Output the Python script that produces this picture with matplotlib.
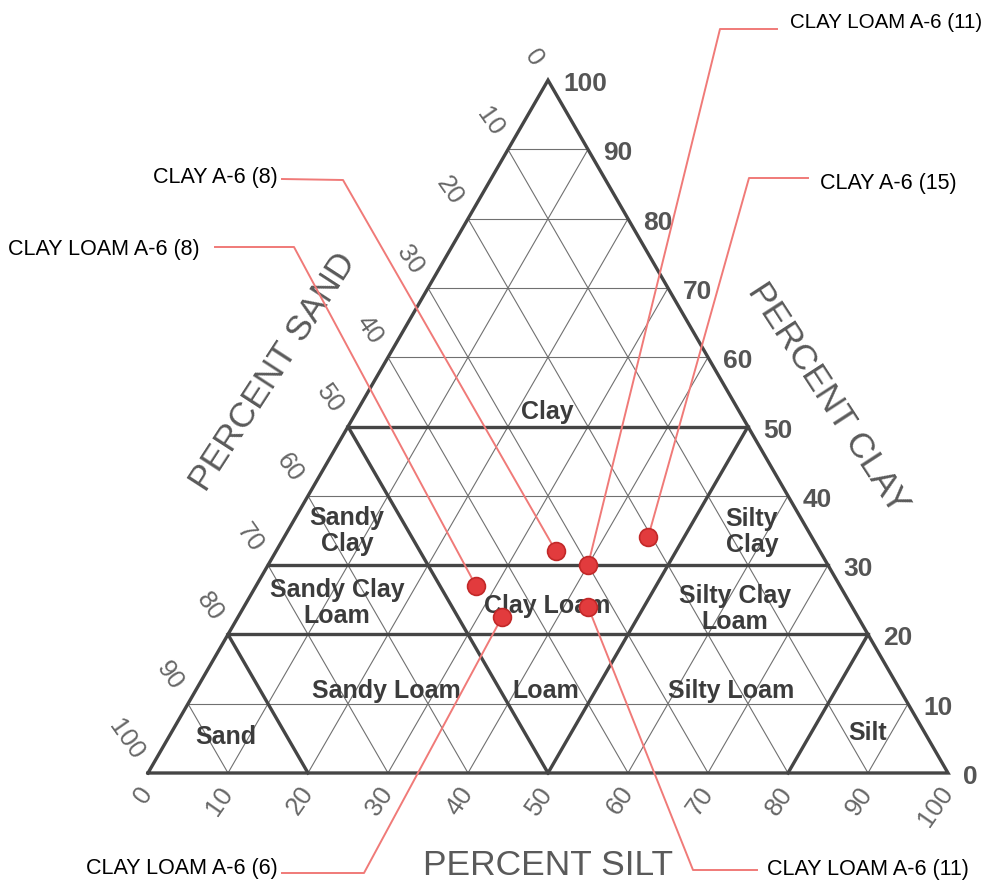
import numpy as np
import matplotlib.pyplot as plt

plt.rcParams['font.family'] = ['Liberation Sans', 'DejaVu Sans']

# sample points (percent silt, percent clay; sand is the rest)
sample_labels = ["CLAY A-6 (8)", "CLAY LOAM A-6 (11)", "CLAY A-6 (15)",
                 "CLAY LOAM A-6 (8)", "CLAY LOAM A-6 (6)", "CLAY LOAM A-6 (11)"]
sample_silt = [35, 40, 45.5, 27.5, 33, 43]
sample_clay = [32, 30, 34, 27, 22.5, 24]

# texture class names
zone_names = ["Clay", "Sandy\nClay", "Sandy Clay\nLoam", "Clay Loam", "Silty\nClay",
              "Silty Clay\nLoam", "Sandy Loam", "Loam", "Silty Loam", "Sand", "Silt"]

# class boundaries as (silt, clay) end points
zone_lines = [((0, 50), (50, 50)), ((0, 30), (70, 30)), ((0, 20), (80, 20)),
              ((50, 0), (0, 50)), ((50, 0), (50, 50)),
              ((20, 0), (0, 20)), ((80, 0), (80, 20))]

ticks = list(range(0, 101, 10))

S3 = np.sqrt(3) / 2


def tern(silt, clay):
    silt = np.asarray(silt, dtype=float)
    clay = np.asarray(clay, dtype=float)
    return silt + clay / 2, clay * S3


def px(x, y):
    # image pixel -> data units (8 px per percent)
    return (x - 148) / 8, (773 - y) / 8


fig = plt.figure(figsize=(9.98, 8.88), dpi=100)
ax = fig.add_axes([0, 0, 1, 1])
ax.set_xlim(-18.5, 106.25)
ax.set_ylim(-14.375, 96.625)
ax.axis('off')

grid_col = '#707070'
thick_col = '#454545'

# thin 10% grid
for v in ticks[1:-1]:
    for (a, b) in [((0, v), (100 - v, v)),       # clay = v
                   ((v, 0), (v, 100 - v)),       # silt = v
                   ((100 - v, 0), (0, 100 - v))]:  # sand = v
        x, y = tern([a[0], b[0]], [a[1], b[1]])
        ax.plot(x, y, color=grid_col, lw=0.8, zorder=1)

# triangle outline
x, y = tern([0, 100, 0, 0], [0, 0, 100, 0])
ax.plot(x, y, color=thick_col, lw=2.4, zorder=2, solid_joinstyle='miter')

for a, b in zone_lines:
    x, y = tern([a[0], b[0]], [a[1], b[1]])
    ax.plot(x, y, color=thick_col, lw=2.4, zorder=2)

# tick labels
tick_col = '#555555'
for t in ticks:
    # sand on the left side
    ax.annotate(str(t), xy=tern(0, 100 - t), xytext=(-10, 16), textcoords='offset pixels',
                rotation=-55, rotation_mode='anchor', ha='right', va='center',
                fontsize=18.5, color='#666666')
    # clay on the right side
    ax.annotate(str(t), xy=tern(100 - t, t), xytext=(15, -4), textcoords='offset pixels',
                ha='left', va='center', fontsize=19, color=tick_col, fontweight='bold')
    # silt along the bottom
    ax.annotate(str(t), xy=tern(t, 0), xytext=(0, -16), textcoords='offset pixels',
                rotation=55, rotation_mode='anchor', ha='right', va='center',
                fontsize=18.5, color='#666666')

# axis titles
title_kw = dict(ha='center', va='center', fontsize=25.5, color='#5a5a5a')
ax.text(*px(273, 372), 'PERCENT SAND', rotation=57, **title_kw)
ax.text(*px(828, 398), 'PERCENT CLAY', rotation=-57, **title_kw)
ax.text(*px(548, 865), 'PERCENT SILT', **title_kw)

# zone labels
zone_pos = [(547, 412), (347, 531), (337, 603), (547, 606), (752, 532),
            (735, 609), (386, 691), (546, 691), (731, 691), (226, 737), (868, 733)]
for name, (zx, zy) in zip(zone_names, zone_pos):
    ax.text(*px(zx, zy), name, ha='center', va='center', fontsize=18,
            fontweight='bold', color='#3c3c3c', linespacing=1.15, zorder=3)

# leader lines: text anchor, line start, elbow (image pixels)
text_pos = [(278, 177, 'right'), (790, 22, 'left'), (820, 183, 'left'),
            (200, 250, 'right'), (278, 868, 'right'), (767, 869, 'left')]
line_start = [(282, 179), (777, 29), (808, 178), (215, 247), (282, 873), (757, 870)]
elbows = [(343, 180), (720, 29), (749, 178), (294, 247), (364, 873), (693, 870)]
label_size = [15.5, 14.8, 15.5, 15.5, 15.5, 15.5]

sx, sy = tern(sample_silt, sample_clay)
for i, lab in enumerate(sample_labels):
    x0, y0 = px(*line_start[i])
    x1, y1 = px(*elbows[i])
    ax.plot([x0, x1, sx[i]], [y0, y1, sy[i]], color='#f07a78', lw=1.4, zorder=4)
    tx, ty, ha = text_pos[i]
    ax.text(*px(tx, ty), lab, ha=ha, va='center', fontsize=label_size[i], color='black')

ax.scatter(sx, sy, s=165, color='#e23b3d', edgecolors='#c22828', linewidths=1.2, zorder=5)

fig.savefig('out.png', dpi=100)
